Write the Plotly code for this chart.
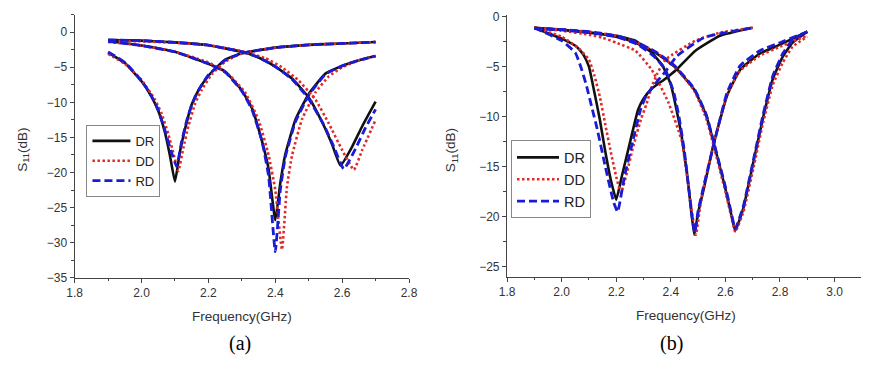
import plotly.graph_objects as go

# ---------------- Panel (a) data ----------------
a1_dr_f = [1.90, 1.95, 2.00, 2.03, 2.05, 2.07, 2.085, 2.10, 2.115, 2.13, 2.15, 2.17, 2.20, 2.25, 2.30, 2.40, 2.50, 2.60, 2.70]
a1_dr_s = [-2.9, -4.4, -7.0, -9.2, -11.2, -14.3, -17.6, -21.3, -17.0, -13.8, -10.3, -8.3, -6.2, -3.9, -3.0, -2.2, -1.8, -1.6, -1.4]
a1_dd_f = [1.90, 1.95, 2.00, 2.04, 2.06, 2.08, 2.095, 2.11, 2.125, 2.14, 2.16, 2.18, 2.21, 2.25, 2.30, 2.40, 2.50, 2.60, 2.70]
a1_dd_s = [-3.1, -4.5, -6.8, -9.6, -11.6, -14.5, -17.2, -19.8, -16.5, -13.4, -10.2, -8.2, -6.0, -4.2, -3.0, -2.2, -1.8, -1.6, -1.4]
a1_rd_f = [1.90, 1.95, 2.00, 2.03, 2.05, 2.07, 2.09, 2.105, 2.12, 2.135, 2.15, 2.17, 2.20, 2.25, 2.30, 2.40, 2.50, 2.60, 2.70]
a1_rd_s = [-2.8, -4.3, -6.9, -9.1, -11.1, -14.0, -17.2, -19.1, -15.6, -12.6, -10.4, -8.3, -6.1, -4.0, -3.0, -2.2, -1.8, -1.6, -1.4]

a2_dr_f = [1.90, 2.00, 2.10, 2.20, 2.25, 2.30, 2.33, 2.36, 2.38, 2.40, 2.415, 2.43, 2.46, 2.50, 2.55, 2.60, 2.65, 2.70]
a2_dr_s = [-1.3, -1.9, -2.8, -4.5, -5.6, -8.3, -10.8, -15.5, -19.5, -26.8, -21.5, -17.4, -12.5, -8.8, -5.9, -4.8, -4.0, -3.4]
a2_dd_f = [1.90, 2.00, 2.10, 2.20, 2.26, 2.31, 2.35, 2.38, 2.40, 2.42, 2.435, 2.45, 2.48, 2.52, 2.56, 2.60, 2.65, 2.70]
a2_dd_s = [-1.4, -1.9, -2.8, -4.3, -6.0, -8.6, -12.5, -17.5, -22.5, -31.0, -22.0, -17.6, -12.4, -8.6, -6.3, -5.0, -4.0, -3.4]
a2_rd_f = [1.90, 2.00, 2.10, 2.20, 2.25, 2.30, 2.33, 2.36, 2.38, 2.40, 2.415, 2.43, 2.46, 2.50, 2.55, 2.60, 2.65, 2.70]
a2_rd_s = [-1.3, -1.9, -2.8, -4.5, -5.7, -8.4, -11.0, -15.5, -20.5, -31.3, -22.5, -17.8, -12.8, -9.0, -6.0, -4.8, -4.0, -3.4]

a3_dr_f = [1.90, 2.00, 2.10, 2.20, 2.30, 2.35, 2.40, 2.45, 2.50, 2.54, 2.57, 2.595, 2.63, 2.66, 2.70]
a3_dr_s = [-1.1, -1.2, -1.45, -1.85, -2.8, -3.6, -4.9, -6.6, -9.3, -12.8, -16.0, -19.0, -16.3, -13.4, -9.9]
a3_dd_f = [1.90, 2.00, 2.10, 2.20, 2.30, 2.37, 2.42, 2.47, 2.52, 2.56, 2.60, 2.635, 2.66, 2.70]
a3_dd_s = [-1.2, -1.3, -1.5, -1.85, -2.7, -3.7, -5.0, -6.9, -9.6, -13.0, -16.8, -19.6, -16.8, -12.5]
a3_rd_f = [1.90, 2.00, 2.10, 2.20, 2.30, 2.35, 2.40, 2.45, 2.50, 2.545, 2.575, 2.605, 2.64, 2.67, 2.70]
a3_rd_s = [-1.1, -1.2, -1.45, -1.85, -2.8, -3.6, -4.9, -6.7, -9.5, -13.2, -16.3, -19.5, -16.6, -13.6, -11.0]

# ---------------- Panel (b) data ----------------
bA_dr_f = [1.90, 2.00, 2.055, 2.08, 2.10, 2.115, 2.14, 2.16, 2.18, 2.20, 2.22, 2.25, 2.28, 2.30, 2.33, 2.38, 2.42, 2.49, 2.58, 2.70]
bA_dr_s = [-1.1, -2.2, -3.0, -3.8, -5.0, -6.9, -10.3, -13.5, -16.3, -18.3, -16.0, -12.6, -9.3, -8.2, -7.2, -6.2, -5.3, -3.4, -1.9, -1.1]
bA_dd_f = [1.90, 2.00, 2.06, 2.10, 2.12, 2.14, 2.16, 2.18, 2.20, 2.217, 2.24, 2.26, 2.29, 2.31, 2.33, 2.35, 2.38, 2.49, 2.58, 2.70]
bA_dd_s = [-1.1, -2.0, -3.1, -4.3, -5.9, -8.0, -10.8, -13.5, -16.0, -17.6, -15.5, -13.2, -10.3, -8.8, -7.0, -5.7, -4.3, -2.4, -1.6, -1.1]
bA_rd_f = [1.90, 2.00, 2.05, 2.07, 2.09, 2.11, 2.13, 2.16, 2.19, 2.205, 2.23, 2.26, 2.29, 2.31, 2.34, 2.38, 2.42, 2.52, 2.70]
bA_rd_s = [-1.1, -2.4, -3.6, -5.0, -6.8, -9.0, -11.2, -15.0, -18.5, -19.5, -16.0, -12.5, -9.2, -7.9, -6.8, -5.5, -4.0, -2.1, -1.1]

bB_dr_f = [1.90, 2.00, 2.10, 2.20, 2.27, 2.33, 2.37, 2.40, 2.42, 2.44, 2.46, 2.475, 2.486, 2.50, 2.52, 2.558, 2.606, 2.654, 2.726, 2.80, 2.90]
bB_dr_s = [-1.1, -1.3, -1.6, -1.9, -2.4, -3.6, -4.9, -6.8, -9.2, -12.0, -15.8, -19.5, -21.8, -19.6, -17.3, -12.6, -7.9, -5.3, -3.7, -2.8, -1.5]
bB_dd_f = [1.90, 2.00, 2.10, 2.15, 2.20, 2.27, 2.33, 2.39, 2.44, 2.462, 2.48, 2.492, 2.51, 2.53, 2.56, 2.606, 2.654, 2.726, 2.80, 2.90]
bB_dd_s = [-1.1, -1.4, -1.8, -2.1, -2.6, -3.4, -5.3, -8.5, -12.4, -16.5, -20.0, -21.8, -18.5, -15.8, -12.4, -7.8, -5.4, -3.9, -3.0, -1.9]
bB_rd_f = [1.90, 2.00, 2.10, 2.20, 2.28, 2.34, 2.38, 2.41, 2.43, 2.45, 2.465, 2.478, 2.488, 2.50, 2.52, 2.558, 2.606, 2.654, 2.726, 2.80, 2.90]
bB_rd_s = [-1.2, -1.3, -1.6, -2.0, -2.8, -4.0, -5.3, -7.5, -10.0, -13.5, -17.0, -20.0, -21.6, -19.4, -17.0, -12.7, -7.6, -4.9, -3.4, -2.6, -1.5]

bC_f = [1.90, 2.00, 2.10, 2.20, 2.27, 2.343, 2.414, 2.486, 2.53, 2.558, 2.60, 2.62, 2.636, 2.666, 2.702, 2.738, 2.774, 2.81, 2.846, 2.90]
bC_dr_s = [-1.1, -1.3, -1.55, -2.0, -2.6, -3.6, -5.0, -7.3, -9.9, -12.7, -17.2, -19.6, -21.4, -19.1, -14.6, -10.1, -6.2, -4.0, -2.6, -1.5]
bC_dd_s = [-1.1, -1.3, -1.5, -1.9, -2.5, -3.5, -5.0, -7.4, -10.2, -13.0, -17.5, -19.8, -21.5, -19.5, -15.2, -10.6, -6.8, -4.6, -3.0, -2.0]
bC_rd_s = [-1.2, -1.3, -1.5, -1.9, -2.5, -3.5, -4.9, -7.2, -9.8, -12.6, -17.0, -19.4, -21.2, -18.9, -14.4, -9.8, -5.9, -3.7, -2.3, -1.5]

series_names = ["DR", "DD", "RD"]

W, H = 872, 367


def join(*pairs):
    xs, ys = [], []
    for i, (fx, sy) in enumerate(pairs):
        if i:
            xs.append(None)
            ys.append(None)
        xs += fx
        ys += sy
    return xs, ys


styles = {
    "DR": dict(color="#111111", width=2.6, dash="solid"),
    "DD": dict(color="#e02a2a", width=2.6, dash="2.5px,2.5px"),
    "RD": dict(color="#1b1bd6", width=2.8, dash="8px,4px"),
}

panel_a = {
    "DR": join((a1_dr_f, a1_dr_s), (a2_dr_f, a2_dr_s), (a3_dr_f, a3_dr_s)),
    "DD": join((a1_dd_f, a1_dd_s), (a2_dd_f, a2_dd_s), (a3_dd_f, a3_dd_s)),
    "RD": join((a1_rd_f, a1_rd_s), (a2_rd_f, a2_rd_s), (a3_rd_f, a3_rd_s)),
}
panel_b = {
    "DR": join((bA_dr_f, bA_dr_s), (bB_dr_f, bB_dr_s), (bC_f, bC_dr_s)),
    "DD": join((bA_dd_f, bA_dd_s), (bB_dd_f, bB_dd_s), (bC_f, bC_dd_s)),
    "RD": join((bA_rd_f, bA_rd_s), (bB_rd_f, bB_rd_s), (bC_f, bC_rd_s)),
}

fig = go.Figure()
for name in series_names:
    x, y = panel_a[name]
    fig.add_trace(go.Scatter(x=x, y=y, mode="lines", name=name, line=styles[name],
                             line_shape="spline", line_smoothing=0.4,
                             xaxis="x", yaxis="y", legend="legend"))
for name in series_names:
    x, y = panel_b[name]
    fig.add_trace(go.Scatter(x=x, y=y, mode="lines", name=name, line=styles[name],
                             line_shape="spline", line_smoothing=0.4,
                             xaxis="x2", yaxis="y2", legend="legend2"))

tickfont = dict(family="Liberation Sans, Arial, sans-serif", size=12, color="#333333")
axis_common = dict(showgrid=False, zeroline=False, showline=True, linecolor="#444444",
                   linewidth=1.3, ticks="outside", ticklen=4, tickwidth=1.2,
                   tickcolor="#444444", tickfont=tickfont, mirror=False)
minor_t = dict(ticklen=2.5, ticks="outside", tickcolor="#444444")

fig.update_layout(
    width=W, height=H,
    margin=dict(l=0, r=0, t=0, b=0),
    paper_bgcolor="white", plot_bgcolor="white",
    xaxis=dict(domain=[68 / W, 409 / W], range=[1.8, 2.8], dtick=0.2, tickformat=".1f",
               minor=dict(dtick=0.1, **minor_t), anchor="y", **axis_common),
    yaxis=dict(domain=[1 - 282 / H, 1 - 10 / H], range=[-35, 2.5], dtick=5,
               minor=dict(dtick=2.5, **minor_t), anchor="x", **axis_common),
    xaxis2=dict(domain=[509 / W, 870 / W], range=[1.8, 3.097], dtick=0.2, tickformat=".1f",
                minor=dict(dtick=0.1, **minor_t), anchor="y2", **axis_common),
    yaxis2=dict(domain=[1 - 281 / H, 1 - 10 / H], range=[-26, 0.2], dtick=5,
                minor=dict(dtick=2.5, **minor_t), anchor="x2", **axis_common),
    legend=dict(x=80 / W, y=1 - 124 / H, xanchor="left", yanchor="top",
                bgcolor="white", bordercolor="#888888", borderwidth=1,
                font=dict(family="Liberation Sans, Arial, sans-serif", size=13, color="#222222"),
                itemwidth=38, tracegroupgap=0),
    legend2=dict(x=513 / W, y=1 - 140 / H, xanchor="left", yanchor="top",
                 bgcolor="white", bordercolor="#888888", borderwidth=1,
                 font=dict(family="Liberation Sans, Arial, sans-serif", size=14.5, color="#222222"),
                 itemwidth=42, tracegroupgap=0),
    showlegend=True,
)

labfont = dict(family="Liberation Sans, Arial, sans-serif", size=13.5, color="#333333")
capfont = dict(family="Liberation Serif, Times New Roman, serif", size=20, color="#000000")
annots = [
    dict(text="Frequency(GHz)", x=239 / W, y=1 - 322 / H, font=labfont),
    dict(text="Frequency(GHz)", x=691 / W, y=1 - 321 / H, font=labfont),
    dict(text="S<sub>11</sub>(dB)", x=15 / W, y=1 - 150 / H, font=labfont, textangle=-90),
    dict(text="S<sub>11</sub>(dB)", x=452 / W, y=1 - 150 / H, font=labfont, textangle=-90),
    dict(text="(a)", x=237 / W, y=1 - 350 / H, font=capfont),
    dict(text="(b)", x=677 / W, y=1 - 350 / H, font=capfont),
]
for a in annots:
    fig.add_annotation(xref="paper", yref="paper", showarrow=False,
                       xanchor="center", yanchor="middle", **a)

fig.write_html(
    "out.html",
    config={"displayModeBar": False},
    post_script="document.body.style.margin='0';document.body.style.padding='0';"
                "document.body.style.overflow='hidden';",
)
